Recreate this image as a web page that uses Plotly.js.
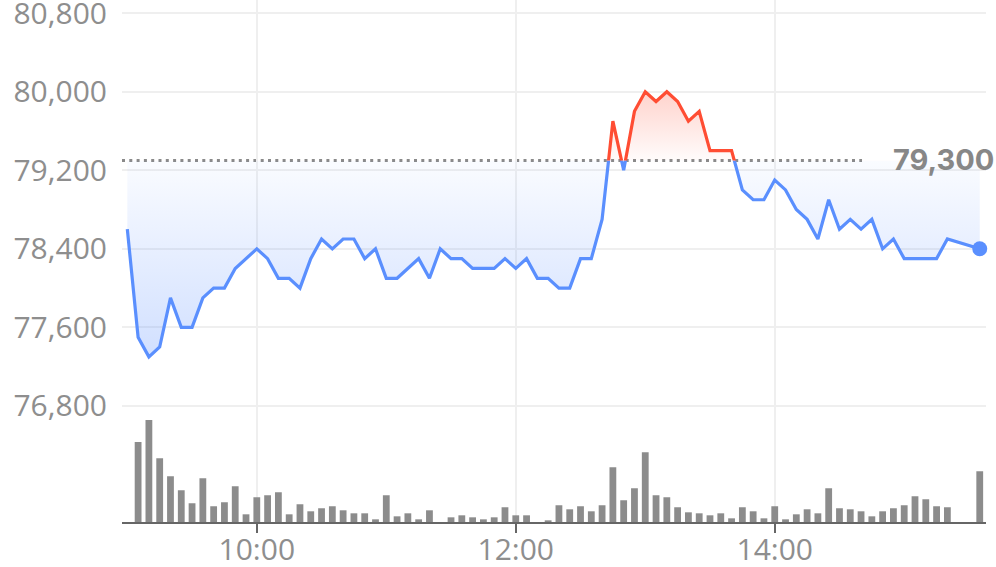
<!DOCTYPE html>
<html>
<head>
<meta charset="utf-8">
<script src="https://cdn.plot.ly/plotly-3.0.1.min.js"></script>
<style>
html, body { margin: 0; padding: 0; background: #ffffff; }
#chart { width: 996px; height: 567px; }
</style>
</head>
<body>
<div id="chart"></div>
<script>
// ---- Data ----
const SESSION_DATE = '2024-05-20';

const TIMES = [
  "09:00","09:05","09:10","09:15","09:20","09:25","09:30","09:35","09:40","09:45","09:50","09:55",
  "10:00","10:05","10:10","10:15","10:20","10:25","10:30","10:35","10:40","10:45","10:50","10:55",
  "11:00","11:05","11:10","11:15","11:20","11:25","11:30","11:35","11:40","11:45","11:50","11:55",
  "12:00","12:05","12:10","12:15","12:20","12:25","12:30","12:35","12:40","12:45","12:50","12:55",
  "13:00","13:05","13:10","13:15","13:20","13:25","13:30","13:35","13:40","13:45","13:50","13:55",
  "14:00","14:05","14:10","14:15","14:20","14:25","14:30","14:35","14:40","14:45","14:50","14:55",
  "15:00","15:05","15:10","15:15","15:20","15:35"
];

const PRICES = [
  78600,77500,77300,77400,77900,77600,77600,77900,78000,78000,78200,78300,
  78400,78300,78100,78100,78000,78300,78500,78400,78500,78500,78300,78400,
  78100,78100,78200,78300,78100,78400,78300,78300,78200,78200,78200,78300,
  78200,78300,78100,78100,78000,78000,78300,78300,78700,79700,79200,79800,
  80000,79900,80000,79900,79700,79800,79400,79400,79400,79000,78900,78900,
  79100,79000,78800,78700,78500,78900,78600,78700,78600,78700,78400,78500,
  78300,78300,78300,78300,78500,78400
];

// volume per 5-minute bucket (thousand shares)
const VOLUMES = [
  0,239,305,191,137,95,56,131,47,59,107,23,
  74,80,89,23,53,32,41,47,35,26,26,8,
  80,17,26,8,35,0,14,20,14,8,14,44,
  20,20,0,5,50,38,47,32,50,164,65,101,
  209,80,74,44,29,26,20,26,11,44,32,11,
  47,8,23,38,26,101,41,38,32,17,32,41,
  50,77,68,47,44,152
];

const REF_PRICE = 79300;
const Y_TICKS = [76800, 77600, 78400, 79200, 80000, 80800];
const X_TICKS = ["10:00", "12:00", "14:00"];

// ---- Build chart ----
const toDate = t => SESSION_DATE + ' ' + t;
const X = TIMES.map(toDate);
const BASE = X.map(() => REF_PRICE);

const BLUE = '#5a8ffe';
const RED = '#ff4d33';
const FONT = '"Open Sans", Roboto, sans-serif';
const BOLD_FONT = 'Inter, "Open Sans", sans-serif';

const Y_RANGE = [75618, 80934];
const MID = (REF_PRICE - Y_RANGE[0]) / (Y_RANGE[1] - Y_RANGE[0]);
const last = X.length - 1;

const traces = [
  { x: X, y: BASE, xaxis: 'x', yaxis: 'y3', mode: 'lines', line: { width: 0, color: 'rgba(0,0,0,0)' },
    hoverinfo: 'skip', showlegend: false },
  { x: X, y: PRICES, xaxis: 'x', yaxis: 'y3', mode: 'lines', line: { color: BLUE, width: 3.2 },
    fill: 'tonexty',
    fillgradient: { type: 'vertical', start: Math.min(...PRICES), stop: REF_PRICE,
      colorscale: [[0, 'rgba(91,143,255,0.28)'], [1, 'rgba(91,143,255,0.03)']] },
    hoverinfo: 'skip', showlegend: false },
  { x: X, y: BASE, xaxis: 'x', yaxis: 'y4', mode: 'lines', line: { width: 0, color: 'rgba(0,0,0,0)' },
    hoverinfo: 'skip', showlegend: false },
  { x: X, y: PRICES, xaxis: 'x', yaxis: 'y4', mode: 'lines', line: { color: RED, width: 3.2 },
    fill: 'tonexty',
    fillgradient: { type: 'vertical', start: REF_PRICE, stop: Math.max(...PRICES),
      colorscale: [[0, 'rgba(255,77,51,0.02)'], [1, 'rgba(255,77,51,0.25)']] },
    hoverinfo: 'skip', showlegend: false },
  { type: 'bar', x: X, y: VOLUMES, xaxis: 'x', yaxis: 'y5', marker: { color: '#8c8c8c', line: { width: 0 } },
    width: 189000, hoverinfo: 'skip', showlegend: false },
  { x: [X[last]], y: [PRICES[last]], xaxis: 'x', yaxis: 'y3', mode: 'markers',
    marker: { size: 15, color: BLUE }, cliponaxis: false, hoverinfo: 'skip', showlegend: false }
];

const hidden = { visible: false, showgrid: false, zeroline: false, fixedrange: true, anchor: 'x' };

const layout = {
  width: 996, height: 567,
  margin: { l: 122, r: 10, t: 0, b: 45, pad: 0 },
  paper_bgcolor: '#ffffff', plot_bgcolor: 'rgba(0,0,0,0)',
  showlegend: false,
  font: { family: FONT, color: '#8e8e8e' },
  xaxis: {
    type: 'date', anchor: 'y',
    range: [SESSION_DATE + ' 08:57:32', SESSION_DATE + ' 15:37:54'],
    tickvals: X_TICKS.map(toDate), ticktext: X_TICKS,
    ticks: 'outside', ticklen: 9, tickwidth: 2, tickcolor: '#666666',
    showline: true, linecolor: '#666666', linewidth: 2,
    showgrid: true, gridcolor: '#efefef', gridwidth: 2, zeroline: false,
    tickfont: { family: FONT, size: 30, color: '#8e8e8e' },
    ticklabelstandoff: -9, ticklabeloverflow: 'allow',
    fixedrange: true
  },
  yaxis: {
    anchor: 'x', domain: [0, 1], range: Y_RANGE,
    tickvals: Y_TICKS, ticktext: Y_TICKS.map(v => v.toLocaleString('en-US')),
    ticks: '', showline: false, zeroline: false,
    showgrid: true, gridcolor: '#efefef', gridwidth: 2,
    tickfont: { family: FONT, size: 30, color: '#8e8e8e' },
    ticklabelstandoff: 14, ticklabeloverflow: 'allow',
    fixedrange: true
  },
  yaxis3: Object.assign({}, hidden, { domain: [0, MID], range: [Y_RANGE[0], REF_PRICE] }),
  yaxis4: Object.assign({}, hidden, { domain: [MID, 1], range: [REF_PRICE, Y_RANGE[1]] }),
  yaxis5: Object.assign({}, hidden, { domain: [0, 0.25], range: [0, Math.max(...VOLUMES) * 1.28] }),
  shapes: [{
    type: 'line', layer: 'below',
    xref: 'paper', x0: 0, x1: 0.8565,
    yref: 'y', y0: REF_PRICE, y1: REF_PRICE,
    line: { color: '#8a8a8a', width: 3, dash: '3px,4.3px' }
  }],
  annotations: [{
    xref: 'paper', x: 1.011, xanchor: 'right',
    yref: 'y', y: REF_PRICE, yanchor: 'middle', yshift: 1,
    text: REF_PRICE.toLocaleString('en-US'), showarrow: false,
    font: { family: BOLD_FONT, size: 29, color: '#878787', weight: 'bold' }
  }]
};

Plotly.newPlot('chart', traces, layout, { displayModeBar: false, staticPlot: true });
</script>
</body>
</html>
